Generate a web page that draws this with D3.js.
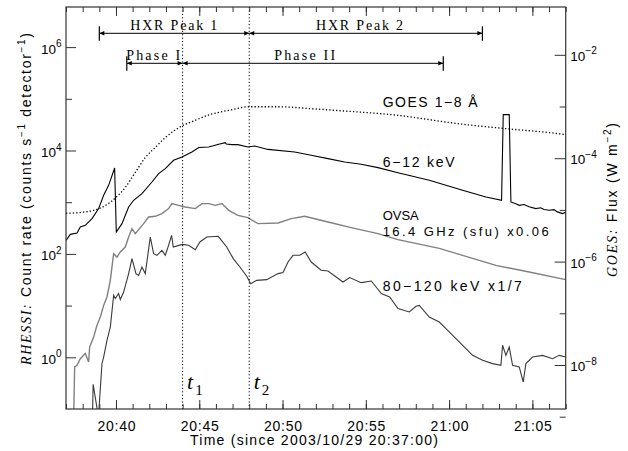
<!DOCTYPE html>
<html><head><meta charset="utf-8">
<script src="https://cdn.jsdelivr.net/npm/d3@7"></script>
<style>body{margin:0;background:#fff}svg{display:block}</style>
</head><body>
<svg id="chart" width="628" height="451"></svg>
<script>
// ---------------- DATA (minutes since 2003/10/29 20:37:00) ----------------
const tGoes = [0,0.96,1.76,2.36,2.96,3.56,4.16,4.76,5.36,5.96,6.56,6.96,7.76,8.57,9.77,11.03,12.73,14.72,16.73,19.73,23.81,26.41,29.81,30];
const goesFlux = [8.6e-6,9.0e-6,1.0e-5,1.21e-5,1.70e-5,2.72e-5,5.30e-5,1.03e-4,1.61e-4,2.51e-4,3.52e-4,4.21e-4,5.42e-4,6.86e-4,8.45e-4,9.9e-4,9.9e-4,9.08e-4,8.18e-4,6.86e-4,4.54e-4,3.73e-4,2.91e-4,2.85e-4];

const tLow = [0,0.26,0.66,0.86,1.16,1.56,1.96,2.26,2.56,2.92,3.02,3.36,3.76,4.06,4.56,5.16,5.56,5.96,6.46,6.96,7.56,7.97,8.57,9.17,9.56,9.62,9.96,10.32,10.92,11.33,12.12,13.73,14.72,15.73,16.73,17.72,18.73,19.93,21.81,23.81,25.21,26.15,26.25,26.61,26.71,27.0,27.21,27.5,27.8,28.21,28.5,28.7,29.01,29.3,29.5,29.81,30];
const rateLow = [183,239,254,331,357,482,752,1360,2120,4590,265,385,807,1090,1470,2460,3570,4470,6460,7480,9350,11400,11700,13200,14200,13400,13000,13000,11700,12200,10500,9350,8070,6970,6000,5410,4670,3710,2650,1700,1260,1090,49400,49400,1010,930,871,900,820,752,780,720,697,720,650,603,638];

const tOvsa = [0.45,0.52,0.66,0.86,1.16,1.36,1.42,1.66,1.86,2.06,2.26,2.46,2.66,2.86,3.06,3.26,3.56,3.76,3.96,4.16,4.66,4.96,5.36,5.76,6.16,6.36,6.76,7.16,7.76,8.16,8.57,8.96,9.36,9.77,10.32,10.92,11.52,12.73,13.52,14.33,15.73,17.12,18.73,19.93,22.41,23.81,25.81,27.81,30];
const ovsaScaled = [0.05,0.65,0.70,0.94,1.18,0.81,1.58,2.47,4.16,6.01,10.1,14.7,30.8,101,87,109,136,212,308,247,385,518,534,602,752,939,871,807,752,939,939,871,939,697,558,504,385,396,482,534,414,323,247,189,128,94,60,44.7,31.8];

const tHigh = [1.58,1.63,1.92,1.96,2.16,2.26,2.46,2.66,2.86,2.96,3.16,3.26,3.46,3.76,3.96,4.20,4.36,4.56,4.76,5.06,5.26,5.46,5.76,5.96,6.12,6.34,6.44,6.98,7.36,7.76,8.04,8.45,9.14,9.65,10.04,10.44,10.85,11.09,11.45,12.05,12.73,13.03,13.33,13.63,14.03,14.36,14.72,15.32,15.73,16.63,17.03,17.72,18.33,18.93,19.43,19.93,20.61,21.01,21.21,21.81,22.41,22.81,23.41,24.01,24.41,25.01,25.61,26.11,26.21,26.41,26.61,26.81,27.21,27.45,27.61,28.01,28.61,29.21,29.61,30];
const rateHigh = [0.05,0.30,0.08,0.08,0.76,1.01,2.13,3.85,15.8,13.7,17.1,13.1,18.3,41.6,81.1,41.6,38.5,55.8,41.6,212,101,94,117,94,134,229,136,153,147,120,170,212,219,136,81,55.8,36.9,26.6,30.8,31.8,41.6,43.5,69.7,94,94,109,69.7,48.2,46.7,28.6,34.8,27.8,29.9,17.1,14.7,8.75,7.52,9.69,10.1,6.02,4.82,3.59,2.30,1.47,1.09,0.875,0.755,0.70,1.71,1.09,1.58,0.70,0.65,0.333,0.755,1.01,1.09,0.94,1.09,1.01];

const markTimes = [7, 11];          // t1 = 20:44, t2 = 20:48
const markSubs = ["1", "2"];
const annNames = ["HXR Peak 1", "HXR Peak 2", "Phase I", "Phase II"];
const annStart = [2.0, 11.0, 3.65, 7.0];
const annEnd = [11.0, 25.0, 7.0, 22.65];
const annRow = [0, 0, 1, 1];
const annBar = ["start", "end", "start", "end"];
const leftTickExp = [0, 2, 4, 6];
const rightTickExp = [-8, -6, -4, -2];
const seriesLabels = ["GOES 1\u22128 \u00C5", "6\u221212 keV", "OVSA", "16.4 GHz (sfu) x0.06", "80\u2212120 keV x1/7"];
const xTitle = "Time (since 2003/10/29 20:37:00)";

// ---------------- LAYOUT ----------------
const L = 66, R = 565.7, T = 7, B = 409;
const SANS = "'Liberation Sans', Arial, Helvetica, sans-serif";
const SERIF = "'Liberation Serif', 'Times New Roman', serif";
const AX = "#333";
const svg = d3.select("#chart");
const t0 = Date.UTC(2003, 9, 29, 20, 37, 0);
const toDate = m => new Date(t0 + m * 60000);

const x = d3.scaleUtc().domain([toDate(0), toDate(30)]).range([L, R]);
const yL = d3.scaleLog().domain([Math.pow(10, -1), Math.pow(10, 6.776)]).range([B, T]);
const yR = d3.scaleLog().domain([Math.pow(10, -8.851), Math.pow(10, -1.075)]).range([B, T]);

svg.append("defs").append("clipPath").attr("id", "clip")
  .append("rect").attr("x", L).attr("y", T).attr("width", R - L).attr("height", B - T);

const plot = svg.append("g").attr("clip-path", "url(#clip)");

function series(ts, vs) { return ts.map((t, i) => [toDate(t), vs[i]]); }

// GOES dotted
plot.append("path").datum(series(tGoes, goesFlux))
  .attr("fill", "none").attr("stroke", "#000").attr("stroke-width", 1.3)
  .attr("stroke-dasharray", "1.3,2.1")
  .attr("d", d3.line().x(d => x(d[0])).y(d => yR(d[1])).curve(d3.curveMonotoneX));

// OVSA gray
plot.append("path").datum(series(tOvsa, ovsaScaled))
  .attr("fill", "none").attr("stroke", "#808080").attr("stroke-width", 1.4)
  .attr("d", d3.line().x(d => x(d[0])).y(d => yL(d[1])));

// 80-120 keV
plot.append("path").datum(series(tHigh, rateHigh))
  .attr("fill", "none").attr("stroke", "#3a3a3a").attr("stroke-width", 1.1)
  .attr("d", d3.line().x(d => x(d[0])).y(d => yL(d[1])));

// 6-12 keV
plot.append("path").datum(series(tLow, rateLow))
  .attr("fill", "none").attr("stroke", "#000").attr("stroke-width", 1.1)
  .attr("d", d3.line().x(d => x(d[0])).y(d => yL(d[1])));

// vertical dotted markers
plot.selectAll("line.mark").data(markTimes).join("line").attr("class", "mark")
  .attr("x1", d => x(toDate(d))).attr("x2", d => x(toDate(d)))
  .attr("y1", T).attr("y2", B)
  .attr("stroke", "#000").attr("stroke-width", 1).attr("stroke-dasharray", "1.2,2.2");

// ---------------- AXES ----------------
function clean(g) {
  g.select(".domain").remove();
  g.selectAll("line").attr("stroke", AX).attr("stroke-width", 1);
}
const minorX = d3.utcMinute.every(1), majorX = d3.utcMinute.every(5);
svg.append("g").attr("transform", `translate(0,${B})`)
  .call(d3.axisBottom(x).ticks(minorX).tickSize(-5).tickFormat("")).call(clean);
svg.append("g").attr("transform", `translate(0,${T})`)
  .call(d3.axisTop(x).ticks(minorX).tickSize(-5).tickFormat("")).call(clean);
svg.append("g").attr("transform", `translate(0,${T})`)
  .call(d3.axisTop(x).ticks(majorX).tickSize(-9).tickFormat("")).call(clean);
const gx = svg.append("g").attr("transform", `translate(0,${B})`)
  .call(d3.axisBottom(x).ticks(majorX).tickSizeInner(-9).tickSizeOuter(0)
    .tickFormat(d3.utcFormat("%H:%M"))).call(clean);
gx.selectAll("text").attr("y", 21.5).attr("dy", 0)
  .attr("font-family", SANS).attr("font-size", 14).attr("fill", "#000")
  .attr("textLength", 38).attr("lengthAdjust", "spacing");

// left axis
svg.append("g").attr("transform", `translate(${L},0)`)
  .call(d3.axisLeft(yL).tickValues(leftTickExp.map(e => Math.pow(10, e))).tickSizeInner(-10).tickSizeOuter(0).tickFormat("")).call(clean);
svg.append("g").attr("transform", `translate(${L},0)`)
  .call(d3.axisLeft(yL).tickValues(leftTickExp.map(e => Math.pow(10, e + 1))).tickSizeInner(-6).tickSizeOuter(0).tickFormat("")).call(clean);
// right axis
svg.append("g").attr("transform", `translate(${R},0)`)
  .call(d3.axisRight(yR).tickValues(rightTickExp.map(e => Math.pow(10, e))).tickSizeInner(-11).tickSizeOuter(0).tickFormat("")).call(clean);
svg.append("g").attr("transform", `translate(${R},0)`)
  .call(d3.axisRight(yR).tickValues(rightTickExp.map(e => Math.pow(10, e - 1))).tickSizeInner(-6).tickSizeOuter(0).tickFormat("")).call(clean);

// frame
svg.append("rect").attr("x", L).attr("y", T).attr("width", R - L).attr("height", B - T)
  .attr("fill", "none").attr("stroke", AX).attr("stroke-width", 1.2);

function powLabel(sel, e) {
  sel.append("tspan").text("10").attr("font-size", 13.5);
  sel.append("tspan").text(String(e).replace("-", "\u2212")).attr("font-size", 10).attr("dy", -6.5);
}
svg.selectAll("text.yl").data(leftTickExp).join("text").attr("class", "yl")
  .attr("x", L - 4.5).attr("y", d => yL(Math.pow(10, d)) + 6.5)
  .attr("text-anchor", "end").attr("font-family", SANS).attr("fill", "#000")
  .each(function (d) { powLabel(d3.select(this), d); });
svg.selectAll("text.yr").data(rightTickExp).join("text").attr("class", "yr")
  .attr("x", R + 4.6).attr("y", d => yR(Math.pow(10, d)) + 6)
  .attr("text-anchor", "start").attr("font-family", SANS).attr("fill", "#000")
  .each(function (d) { powLabel(d3.select(this), d); });

// axis titles
svg.append("text").attr("x", 314).attr("y", 445).attr("text-anchor", "middle")
  .attr("font-family", SANS).attr("font-size", 14).attr("fill", "#000")
  .attr("textLength", 248).attr("lengthAdjust", "spacing").text(xTitle);

const lt = svg.append("text").attr("transform", "translate(30.5,199) rotate(-90)")
  .attr("text-anchor", "middle").attr("font-family", SANS).attr("font-size", 14).attr("fill", "#000")
  .attr("textLength", 332).attr("lengthAdjust", "spacing");
lt.append("tspan").attr("font-family", SERIF).attr("font-style", "italic").text("RHESSI:");
lt.append("tspan").text(" Count rate (counts s");
lt.append("tspan").attr("font-size", 10).attr("dy", -6).text("\u22121");
lt.append("tspan").attr("dy", 6).text(" detector");
lt.append("tspan").attr("font-size", 10).attr("dy", -6).text("\u22121");
lt.append("tspan").attr("dy", 6).text(")");

const rt = svg.append("text").attr("transform", "translate(617,200) rotate(-90)")
  .attr("text-anchor", "middle").attr("font-family", SANS).attr("font-size", 14).attr("fill", "#000")
  .attr("textLength", 154).attr("lengthAdjust", "spacing");
rt.append("tspan").attr("font-family", SERIF).attr("font-style", "italic").text("GOES:");
rt.append("tspan").text(" Flux (W m");
rt.append("tspan").attr("font-size", 10).attr("dy", -6).text("\u22122");
rt.append("tspan").attr("dy", 6).text(")");

// ---------------- ANNOTATIONS ----------------
const rowY = [33.3, 63.3];
const textShift = [-0.5, -6.3, -1.5, -8.3];
const textLen = [87, 87, 54, 61];
const ann = svg.append("g");
annNames.forEach((name, i) => {
  const xa = x(toDate(annStart[i])), xb = x(toDate(annEnd[i])), y = rowY[annRow[i]];
  ann.append("line").attr("x1", xa).attr("x2", xb).attr("y1", y).attr("y2", y)
    .attr("stroke", "#000").attr("stroke-width", 1);
  ann.append("path").attr("fill", "#000")
    .attr("d", `M${xa},${y}l5,-2.3v4.6z M${xb},${y}l-5,-2.3v4.6z`);
  const xbar = annBar[i] === "start" ? xa : xb;
  ann.append("line").attr("x1", xbar).attr("x2", xbar).attr("y1", y - 7).attr("y2", y + 7.5)
    .attr("stroke", "#000").attr("stroke-width", 1.2);
  ann.append("text").attr("x", (xa + xb) / 2 + textShift[i]).attr("y", y - 3)
    .attr("text-anchor", "middle").attr("font-family", SERIF).attr("font-size", 14)
    .attr("textLength", textLen[i]).attr("lengthAdjust", "spacing").attr("fill", "#000").text(name);
});

// t1, t2 labels
const tl = svg.selectAll("text.tm").data(markTimes).join("text").attr("class", "tm")
  .attr("x", d => x(toDate(d)) + 4.5).attr("y", 388.5).attr("font-family", SERIF).attr("fill", "#000");
tl.append("tspan").attr("font-style", "italic").attr("font-size", 22).text("t");
tl.append("tspan").attr("font-size", 15).attr("dx", 2).attr("dy", 6.5).text((d, i) => markSubs[i]);

// series labels
const labelY = [106.7, 166.7, 220.3, 236, 290.5];
const labelLen = [95, 72, 36, 166, 139];
const labelSize = [14, 14, 13, 13, 14];
svg.selectAll("text.sl").data(seriesLabels).join("text").attr("class", "sl")
  .attr("x", 382.7).attr("y", (d, i) => labelY[i])
  .attr("font-family", SANS).attr("font-size", (d, i) => labelSize[i]).attr("fill", "#000")
  .attr("textLength", (d, i) => labelLen[i]).attr("lengthAdjust", "spacing")
  .text(d => d);
</script>
</body></html>
